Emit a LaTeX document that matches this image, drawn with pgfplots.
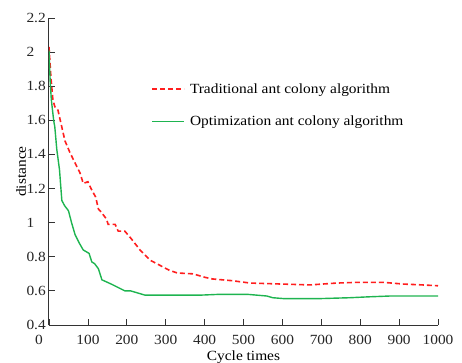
\documentclass[border=0pt]{standalone}
\usepackage{fontspec}
\setmainfont{Liberation Serif}[FakeStretch=1.1]
\usepackage{pgfplots}
\pgfplotsset{compat=1.18}
\definecolor{tred}{RGB}{255,30,30}
\definecolor{ogreen}{RGB}{30,180,80}
\newcommand{\ff}{\fontsize{14}{16}\selectfont}
\begin{document}
\begin{tikzpicture}
\useasboundingbox (-49pt,-37pt) rectangle (413pt,325pt);
\begin{axis}[
  scale only axis, width=389pt, height=307pt,
  xmin=0, xmax=1000, ymin=0.4, ymax=2.2,
  axis lines*=left,
  axis line style={-, line width=1pt, black!80},
  tick style={line width=0.8pt, black!80},
  major tick length=6pt,
  tick align=inside,
  xtick={100,200,...,1000},
  extra x ticks={0}, extra x tick labels={0},
  extra x tick style={xticklabel style={xshift=-10pt}},
  ytick={0.4,0.6,...,2.21},
  yticklabels={0.4,0.6,0.8,1,1.2,1.4,1.6,1.8,2,2.2},
  /pgf/number format/assume math mode=true,
  /pgf/number format/1000 sep={},
  tick label style={font=\ff, text=black!85},
  xticklabel style={yshift=-7pt},
  yticklabel style={anchor=west, xshift=-26pt},
  xlabel={Cycle times}, ylabel={distance},
  label style={font=\ff},
  xlabel style={at={(axis description cs:0.5,-0.072)}, anchor=north},
  ylabel style={at={(axis description cs:-0.05,0.5)}, anchor=south},
  legend style={draw=none, fill=none, font=\ff, at={(axis description cs:0.255,0.80)}, anchor=north west, row sep=17pt, column sep=3pt},
  legend cell align=left,
  legend image code/.code={\draw[#1] (0pt,0pt) -- (32pt,0pt);},
]
\addplot[tred, line width=1.6pt, dash pattern=on 5pt off 3pt] coordinates {
(0,2.03) (5,1.85) (10,1.72) (15,1.68) (23,1.66) (26,1.63) (33,1.56) (41,1.48) (54,1.41) (67,1.35) (80,1.29) (88,1.23) (100,1.24) (108,1.20) (120,1.15) (127,1.08) (135,1.06) (148,1.02) (152,0.99) (170,0.99) (178,0.95) (195,0.95) (210,0.91) (234,0.84) (260,0.78) (285,0.75) (310,0.72) (330,0.705) (370,0.70) (400,0.68) (420,0.67) (470,0.66) (517,0.646) (600,0.64) (671,0.635) (740,0.646) (792,0.65) (860,0.65) (911,0.64) (960,0.635) (1000,0.63)
};
\addlegendentry{Traditional ant colony algorithm}
\addplot[ogreen, line width=1.4pt] coordinates {
(0,2.01) (3,1.83) (6,1.72) (9,1.66) (12,1.60) (15,1.56) (20,1.43) (27,1.31) (33,1.13) (40,1.10) (50,1.07) (58,1.00) (67,0.93) (78,0.88) (88,0.84) (103,0.82) (110,0.77) (117,0.76) (127,0.73) (136,0.665) (160,0.64) (195,0.60) (210,0.60) (247,0.575) (300,0.575) (388,0.575) (440,0.58) (509,0.58) (560,0.57) (575,0.56) (602,0.555) (700,0.555) (774,0.56) (820,0.565) (877,0.57) (1000,0.57)
};
\addlegendentry{Optimization ant colony algorithm}
\end{axis}
\end{tikzpicture}
\end{document}
